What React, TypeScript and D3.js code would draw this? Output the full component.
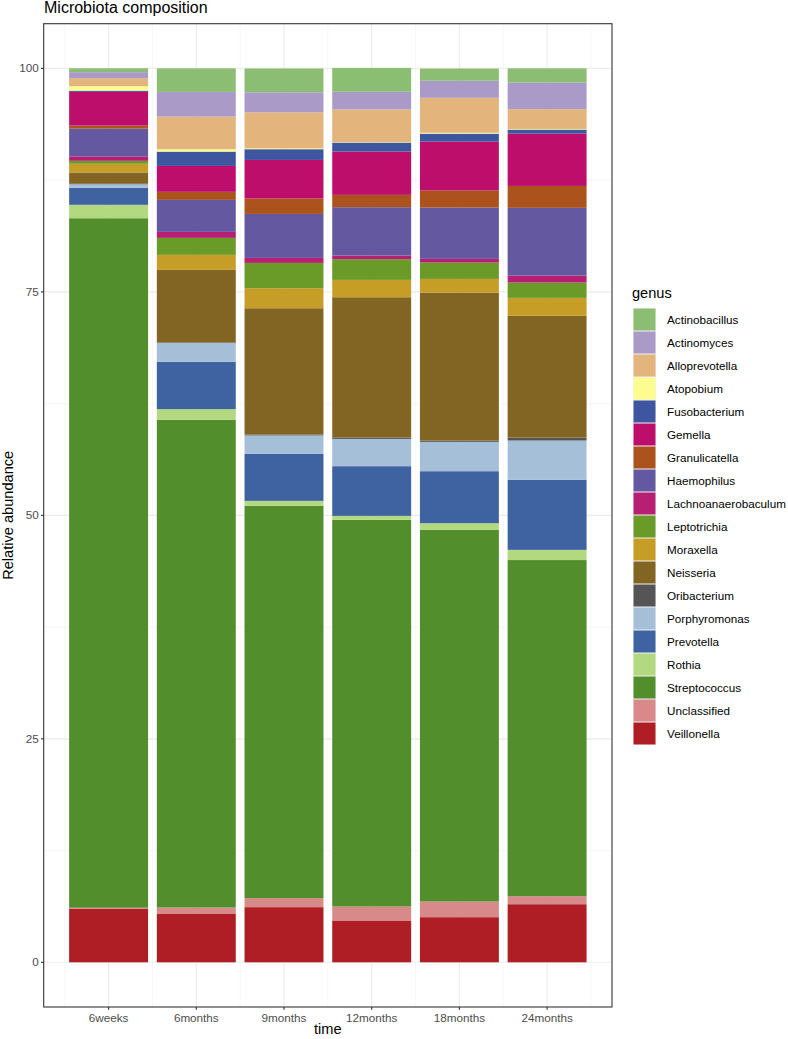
import React from "react";
import * as d3 from "d3";

const times = ["6weeks", "6months", "9months", "12months", "18months", "24months"];
const genera = [
  "Actinobacillus", "Actinomyces", "Alloprevotella", "Atopobium", "Fusobacterium",
  "Gemella", "Granulicatella", "Haemophilus", "Lachnoanaerobaculum", "Leptotrichia",
  "Moraxella", "Neisseria", "Oribacterium", "Porphyromonas", "Prevotella",
  "Rothia", "Streptococcus", "Unclassified", "Veillonella",
];
const colors = [
  "#8BBE72", "#A99AC8", "#E3B47B", "#FCFC8F", "#3E55A0",
  "#BD0E6C", "#AC521D", "#6459A0", "#B61F73", "#6A9A27",
  "#C69E27", "#836523", "#555555", "#A6BFD9", "#3F62A0",
  "#B3D980", "#538E2C", "#D8898A", "#AE1E24",
];

const actinobacillus = [0.43, 2.63, 2.66, 2.66, 1.36, 1.58];
const actinomyces = [0.67, 2.76, 2.24, 1.98, 1.91, 2.98];
const alloprevotella = [0.9, 3.65, 4.03, 3.66, 3.91, 2.21];
const atopobium = [0.5, 0.27, 0.1, 0.05, 0.1, 0.07];
const fusobacterium = [0.14, 1.6, 1.2, 1.0, 0.89, 0.46];
const gemella = [3.77, 2.9, 4.32, 4.85, 5.48, 5.85];
const granulicatella = [0.34, 0.9, 1.72, 1.38, 1.9, 2.45];
const haemophilus = [3.1, 3.58, 4.92, 5.41, 5.74, 7.58];
const lachnoanaerobaculum = [0.5, 0.67, 0.56, 0.4, 0.41, 0.78];
const leptotrichia = [0.33, 1.9, 2.83, 2.32, 1.83, 1.71];
const moraxella = [0.97, 1.68, 2.24, 1.94, 1.53, 2.01];
const neisseria = [1.27, 8.13, 14.13, 15.7, 16.55, 13.62];
const oribacterium = [0.05, 0.05, 0.1, 0.15, 0.15, 0.33];
const porphyromonas = [0.4, 2.11, 2.06, 3.05, 3.28, 4.4];
const prevotella = [1.9, 5.29, 5.26, 5.56, 5.82, 7.83];
const rothia = [1.5, 1.2, 0.56, 0.44, 0.74, 1.14];
const streptococcus = [77.14, 54.55, 43.88, 43.26, 41.58, 37.6];
const unclassified = [0.1, 0.67, 1.01, 1.56, 1.75, 0.9];
const veillonella = [6.0, 5.46, 6.17, 4.68, 5.05, 6.5];

const yTicks = [0, 25, 50, 75, 100];
const yMinor = [12.5, 37.5, 62.5, 87.5];

const series = [
  actinobacillus, actinomyces, alloprevotella, atopobium, fusobacterium,
  gemella, granulicatella, haemophilus, lachnoanaerobaculum, leptotrichia,
  moraxella, neisseria, oribacterium, porphyromonas, prevotella,
  rothia, streptococcus, unclassified, veillonella,
];

export default function App() {
  const W = 788, H = 1039;
  const left = 43.7, right = 612, top = 23.7, bottom = 1007;
  const font = "'Liberation Sans', Arial, Helvetica, sans-serif";

  const rows = times.map((t, i) => {
    const r: any = { time: t };
    genera.forEach((g, j) => (r[g] = series[j][i]));
    return r;
  });
  const keys = [...genera].reverse();
  const stacked = d3.stack<any>().keys(keys).order(d3.stackOrderNone)(rows);
  const colorOf = d3.scaleOrdinal<string, string>().domain(genera).range(colors);

  const x = d3.scaleBand().domain(times).range([left, right]).paddingInner(0.1).paddingOuter(0.29);
  const y = d3.scaleLinear().domain([-5, 105]).range([bottom, top]);
  const step = x.step();
  const bw = x.bandwidth();

  const centers = times.map((t) => (x(t) as number) + bw / 2);
  const xMinor = [centers[0] - step / 2, ...centers.map((c) => c + step / 2)];

  const legX = 633, legY = 308, keyH = 23, keyW = 23;

  return (
    <svg width={W} height={H} style={{ position: "absolute", left: 0, top: 0, background: "#fff" }} fontFamily={font}>
      <rect x={0} y={0} width={W} height={H} fill="#fff" />
      <text x={44} y={13} fontSize={16} fill="#000">Microbiota composition</text>
      {/* grid */}
      {yMinor.map((v) => (
        <line key={"ym" + v} x1={left} x2={right} y1={y(v)} y2={y(v)} stroke="#F2F2F2" strokeWidth={0.6} />
      ))}
      {xMinor.map((v, i) => (
        <line key={"xm" + i} x1={v} x2={v} y1={top} y2={bottom} stroke="#F2F2F2" strokeWidth={0.6} />
      ))}
      {yTicks.map((v) => (
        <line key={"yg" + v} x1={left} x2={right} y1={y(v)} y2={y(v)} stroke="#EBEBEB" strokeWidth={1.1} />
      ))}
      {centers.map((c, i) => (
        <line key={"xg" + i} x1={c} x2={c} y1={top} y2={bottom} stroke="#EBEBEB" strokeWidth={1.1} />
      ))}
      {/* bars */}
      {stacked.map((s) => (
        <g key={s.key} fill={colorOf(s.key)}>
          {s.map((d, i) => (
            <rect
              key={i}
              x={x(times[i]) as number}
              width={bw}
              y={y(d[1])}
              height={Math.max(0, y(d[0]) - y(d[1]))}
            />
          ))}
        </g>
      ))}
      {/* panel border */}
      <rect x={left} y={top} width={right - left} height={bottom - top} fill="none" stroke="#333333" strokeWidth={1.1} />
      {/* y axis */}
      {yTicks.map((v) => (
        <g key={"yt" + v}>
          <line x1={left - 2.75} x2={left} y1={y(v)} y2={y(v)} stroke="#333333" strokeWidth={1.1} />
          <text x={left - 5} y={y(v)} dy="0.35em" textAnchor="end" fontSize={11.7} fill="#4D4D4D">{v}</text>
        </g>
      ))}
      {/* x axis */}
      {times.map((t, i) => (
        <g key={"xt" + t}>
          <line x1={centers[i]} x2={centers[i]} y1={bottom} y2={bottom + 2.75} stroke="#333333" strokeWidth={1.1} />
          <text x={centers[i]} y={bottom + 15} textAnchor="middle" fontSize={11.7} fill="#4D4D4D">{t}</text>
        </g>
      ))}
      <text x={(left + right) / 2} y={1034} textAnchor="middle" fontSize={14.6} fill="#000">time</text>
      <text transform={`translate(13,${(top + bottom) / 2}) rotate(-90)`} textAnchor="middle" fontSize={14.6} fill="#000">Relative abundance</text>
      {/* legend */}
      <text x={632} y={298} fontSize={14.6} fill="#000">genus</text>
      {genera.map((g, i) => (
        <g key={"lg" + g}>
          <rect x={legX} y={legY + i * keyH} width={keyW} height={keyH} fill="#F2F2F2" />
          <rect x={legX + 0.5} y={legY + i * keyH + 0.5} width={keyW - 1} height={keyH - 1} fill={colorOf(g)} />
          <text x={667} y={legY + i * keyH + keyH / 2} dy="0.35em" fontSize={11.7} fill="#000">{g}</text>
        </g>
      ))}
    </svg>
  );
}
